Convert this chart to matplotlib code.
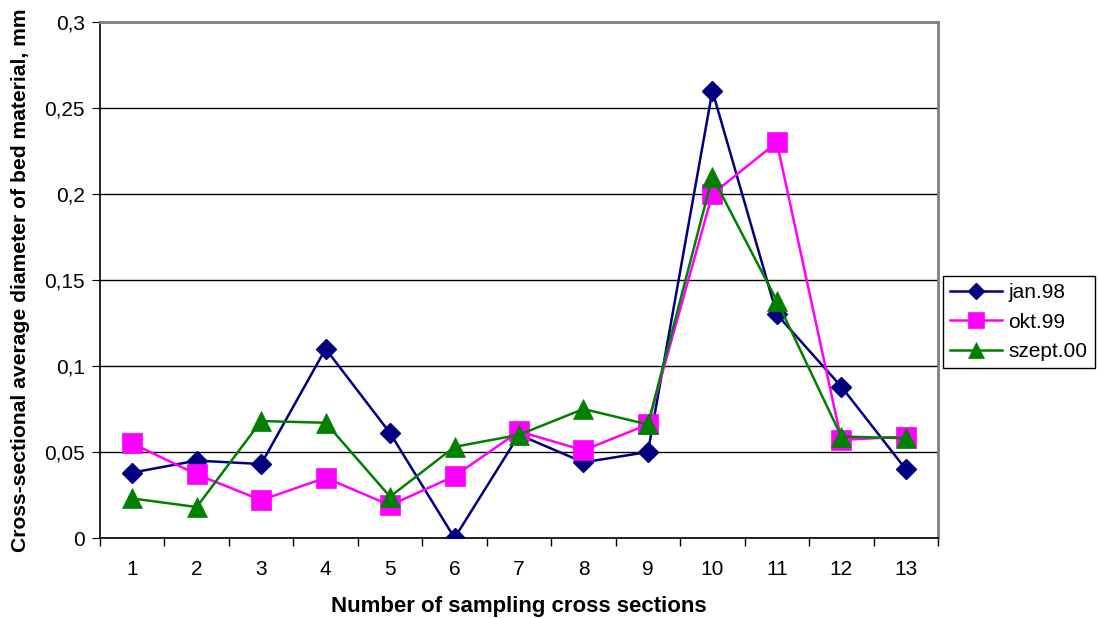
import matplotlib
matplotlib.use("Agg")
import matplotlib.pyplot as plt
from matplotlib.ticker import FuncFormatter, FixedLocator

plt.rcParams['font.family'] = ['Liberation Sans', 'DejaVu Sans']

sections = list(range(1, 14))
jan98 = [0.038, 0.045, 0.043, 0.110, 0.061, 0.000, 0.060, 0.044, 0.050, 0.260, 0.130, 0.088, 0.040]
okt99 = [0.055, 0.037, 0.022, 0.035, 0.019, 0.036, 0.062, 0.051, 0.066, 0.200, 0.230, 0.057, 0.059]
szept00 = [0.023, 0.018, 0.068, 0.067, 0.024, 0.053, 0.060, 0.075, 0.066, 0.210, 0.138, 0.059, 0.058]
series_names = ['jan.98', 'okt.99', 'szept.00']

fig = plt.figure(figsize=(10.99, 6.18), dpi=100)
ax = fig.add_axes([100/1099, 1-538/618, 838/1099, 516/618])

ax.plot(sections, jan98, color='#000080', lw=1.8, marker='D', ms=10.5,
        mfc='#000080', mec='#000080', label=series_names[0], zorder=3)
ax.plot(sections, okt99, color='#FF00FF', lw=1.8, marker='s', ms=15,
        mfc='#FF00FF', mec='#FF00FF', mew=0.5, label=series_names[1], zorder=3)
ax.plot(sections, szept00, color='#008000', lw=1.8, marker='^', ms=15,
        mfc='#008000', mec='#008000', mew=0.5, label=series_names[2], zorder=4)

ax.set_xlim(0.5, 13.5)
ax.set_ylim(0, 0.3)
ax.set_yticks([0, 0.05, 0.1, 0.15, 0.2, 0.25, 0.3])
ax.yaxis.set_major_formatter(FuncFormatter(
    lambda v, p: '0' if v == 0 else ('%g' % round(v, 3)).replace('.', ',')))
ax.yaxis.grid(True, color='black', lw=1)
ax.set_axisbelow(True)

ax.set_xticks(sections)
ax.set_xticklabels([str(s) for s in sections])
ax.tick_params(axis='x', which='major', length=0, pad=16, labelsize=15)
ax.xaxis.set_minor_locator(FixedLocator([i + 0.5 for i in range(0, 14)]))
ax.tick_params(axis='x', which='minor', length=6, direction='out', width=1)
ax.tick_params(axis='y', length=6, direction='out', labelsize=15, pad=5)

for s in ['left', 'bottom']:
    ax.spines[s].set_color('black')
    ax.spines[s].set_linewidth(1.2)
for s in ['top', 'right']:
    ax.spines[s].set_color('#808080')
    ax.spines[s].set_linewidth(2)

ax.set_xlabel('Number of sampling cross sections', fontsize=16, fontweight='bold', labelpad=12)
ax.set_ylabel('Cross-sectional average diameter of bed material, mm', fontsize=15.2,
              fontweight='bold', labelpad=10)

leg = fig.legend(loc='center left', bbox_to_anchor=(943/1099, 1-322/618), fontsize=15,
                 frameon=True, fancybox=False, edgecolor='black', framealpha=1,
                 handlelength=2.5, borderpad=0.35, labelspacing=0.5, handletextpad=0.28,
                 markerscale=0.75, borderaxespad=0)
leg.get_frame().set_linewidth(1)

fig.savefig('out.png', dpi=100)
